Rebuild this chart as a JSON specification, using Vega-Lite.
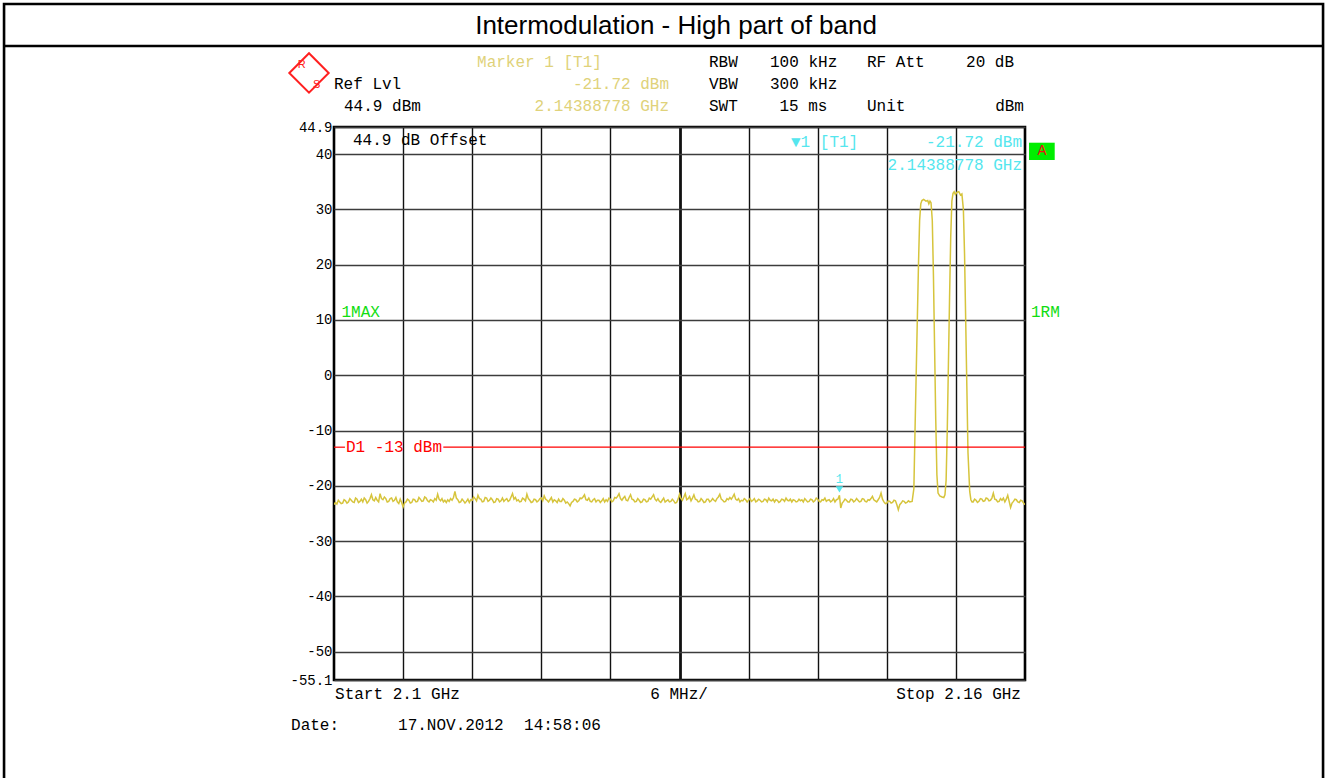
{
  "$schema": "https://vega.github.io/schema/vega-lite/v6.json",
  "width": 691,
  "height": 553,
  "autosize": {"type": "none"},
  "padding": {"left": 334, "top": 127, "right": 302, "bottom": 98},
  "background": "white",
  "config": {
    "view": {"stroke": "black", "strokeWidth": 2.6},
    "axis": {"title": null},
    "text": {"font": "Liberation Mono", "fontSize": 16, "baseline": "alphabetic"}
  },
  "data": {"values": [{}]},
  "layer": [
    {
      "data": {"values": [
        {"f":2100.000,"v":-23.4},{"f":2100.125,"v":-23.0},{"f":2100.250,"v":-23.3},{"f":2100.375,"v":-22.6},{"f":2100.500,"v":-22.9},{"f":2100.625,"v":-23.2},{"f":2100.750,"v":-23.1},{"f":2100.875,"v":-22.5},
        {"f":2101.000,"v":-22.7},{"f":2101.125,"v":-23.1},{"f":2101.250,"v":-22.9},{"f":2101.375,"v":-22.3},{"f":2101.500,"v":-22.6},{"f":2101.625,"v":-22.9},{"f":2101.750,"v":-23.0},{"f":2101.875,"v":-22.2},
        {"f":2102.000,"v":-22.4},{"f":2102.125,"v":-23.0},{"f":2102.250,"v":-22.8},{"f":2102.375,"v":-22.4},{"f":2102.500,"v":-22.9},{"f":2102.625,"v":-22.2},{"f":2102.750,"v":-22.5},{"f":2102.875,"v":-23.1},
        {"f":2103.000,"v":-22.8},{"f":2103.125,"v":-22.3},{"f":2103.250,"v":-21.6},{"f":2103.375,"v":-22.5},{"f":2103.500,"v":-22.7},{"f":2103.625,"v":-22.1},{"f":2103.750,"v":-22.6},{"f":2103.875,"v":-22.9},
        {"f":2104.000,"v":-21.4},{"f":2104.125,"v":-22.3},{"f":2104.250,"v":-22.5},{"f":2104.375,"v":-22.0},{"f":2104.500,"v":-22.3},{"f":2104.625,"v":-22.9},{"f":2104.750,"v":-22.8},{"f":2104.875,"v":-22.3},
        {"f":2105.000,"v":-22.2},{"f":2105.125,"v":-22.8},{"f":2105.250,"v":-22.6},{"f":2105.375,"v":-22.1},{"f":2105.500,"v":-22.9},{"f":2105.625,"v":-23.2},{"f":2105.750,"v":-22.4},{"f":2105.875,"v":-23.0},
        {"f":2106.000,"v":-23.8},{"f":2106.125,"v":-23.1},{"f":2106.250,"v":-22.9},{"f":2106.375,"v":-22.4},{"f":2106.500,"v":-22.6},{"f":2106.625,"v":-23.1},{"f":2106.750,"v":-23.0},{"f":2106.875,"v":-22.4},
        {"f":2107.000,"v":-22.5},{"f":2107.125,"v":-22.9},{"f":2107.250,"v":-22.8},{"f":2107.375,"v":-22.1},{"f":2107.500,"v":-22.4},{"f":2107.625,"v":-22.8},{"f":2107.750,"v":-22.7},{"f":2107.875,"v":-22.0},
        {"f":2108.000,"v":-22.2},{"f":2108.125,"v":-22.7},{"f":2108.250,"v":-22.9},{"f":2108.375,"v":-22.5},{"f":2108.500,"v":-22.6},{"f":2108.625,"v":-22.9},{"f":2108.750,"v":-22.3},{"f":2108.875,"v":-22.6},
        {"f":2109.000,"v":-21.5},{"f":2109.125,"v":-22.4},{"f":2109.250,"v":-22.7},{"f":2109.375,"v":-22.3},{"f":2109.500,"v":-22.9},{"f":2109.625,"v":-22.6},{"f":2109.750,"v":-23.0},{"f":2109.875,"v":-22.5},
        {"f":2110.000,"v":-22.8},{"f":2110.125,"v":-22.3},{"f":2110.250,"v":-22.6},{"f":2110.375,"v":-22.1},{"f":2110.500,"v":-21.0},{"f":2110.625,"v":-22.2},{"f":2110.750,"v":-22.5},{"f":2110.875,"v":-23.0},
        {"f":2111.000,"v":-22.9},{"f":2111.125,"v":-22.4},{"f":2111.250,"v":-22.7},{"f":2111.375,"v":-23.1},{"f":2111.500,"v":-22.8},{"f":2111.625,"v":-22.4},{"f":2111.750,"v":-23.0},{"f":2111.875,"v":-22.5},
        {"f":2112.000,"v":-22.6},{"f":2112.125,"v":-22.0},{"f":2112.250,"v":-22.3},{"f":2112.375,"v":-22.7},{"f":2112.500,"v":-21.7},{"f":2112.625,"v":-22.3},{"f":2112.750,"v":-22.4},{"f":2112.875,"v":-22.9},
        {"f":2113.000,"v":-22.8},{"f":2113.125,"v":-22.1},{"f":2113.250,"v":-22.2},{"f":2113.375,"v":-22.8},{"f":2113.500,"v":-22.6},{"f":2113.625,"v":-22.2},{"f":2113.750,"v":-22.5},{"f":2113.875,"v":-23.0},
        {"f":2114.000,"v":-22.9},{"f":2114.125,"v":-22.3},{"f":2114.250,"v":-22.4},{"f":2114.375,"v":-22.9},{"f":2114.500,"v":-22.7},{"f":2114.625,"v":-22.2},{"f":2114.750,"v":-22.8},{"f":2114.875,"v":-22.5},
        {"f":2115.000,"v":-22.3},{"f":2115.125,"v":-22.8},{"f":2115.250,"v":-22.6},{"f":2115.375,"v":-22.0},{"f":2115.500,"v":-21.4},{"f":2115.625,"v":-22.4},{"f":2115.750,"v":-22.1},{"f":2115.875,"v":-22.7},
        {"f":2116.000,"v":-22.5},{"f":2116.125,"v":-22.9},{"f":2116.250,"v":-22.8},{"f":2116.375,"v":-22.2},{"f":2116.500,"v":-22.4},{"f":2116.625,"v":-22.7},{"f":2116.750,"v":-21.5},{"f":2116.875,"v":-22.3},
        {"f":2117.000,"v":-22.6},{"f":2117.125,"v":-23.0},{"f":2117.250,"v":-22.9},{"f":2117.375,"v":-22.4},{"f":2117.500,"v":-22.5},{"f":2117.625,"v":-22.9},{"f":2117.750,"v":-22.7},{"f":2117.875,"v":-22.3},
        {"f":2118.000,"v":-22.2},{"f":2118.125,"v":-22.7},{"f":2118.250,"v":-21.8},{"f":2118.375,"v":-22.4},{"f":2118.500,"v":-22.6},{"f":2118.625,"v":-22.9},{"f":2118.750,"v":-22.5},{"f":2118.875,"v":-22.1},
        {"f":2119.000,"v":-22.9},{"f":2119.125,"v":-22.5},{"f":2119.250,"v":-22.7},{"f":2119.375,"v":-23.0},{"f":2119.500,"v":-22.4},{"f":2119.625,"v":-22.8},{"f":2119.750,"v":-22.8},{"f":2119.875,"v":-22.3},
        {"f":2120.000,"v":-22.6},{"f":2120.125,"v":-23.1},{"f":2120.250,"v":-22.9},{"f":2120.375,"v":-23.2},{"f":2120.500,"v":-23.6},{"f":2120.625,"v":-23.0},{"f":2120.750,"v":-22.8},{"f":2120.875,"v":-22.4},
        {"f":2121.000,"v":-22.5},{"f":2121.125,"v":-22.9},{"f":2121.250,"v":-22.7},{"f":2121.375,"v":-22.2},{"f":2121.500,"v":-22.3},{"f":2121.625,"v":-22.0},{"f":2121.750,"v":-21.6},{"f":2121.875,"v":-22.5},
        {"f":2122.000,"v":-22.6},{"f":2122.125,"v":-22.2},{"f":2122.250,"v":-22.8},{"f":2122.375,"v":-22.9},{"f":2122.500,"v":-22.5},{"f":2122.625,"v":-22.3},{"f":2122.750,"v":-22.9},{"f":2122.875,"v":-22.6},
        {"f":2123.000,"v":-22.6},{"f":2123.125,"v":-23.0},{"f":2123.250,"v":-22.7},{"f":2123.375,"v":-22.3},{"f":2123.500,"v":-22.9},{"f":2123.625,"v":-22.5},{"f":2123.750,"v":-22.8},{"f":2123.875,"v":-22.2},
        {"f":2124.000,"v":-22.4},{"f":2124.125,"v":-22.9},{"f":2124.250,"v":-22.7},{"f":2124.375,"v":-22.1},{"f":2124.500,"v":-22.2},{"f":2124.625,"v":-21.9},{"f":2124.750,"v":-21.4},{"f":2124.875,"v":-22.3},
        {"f":2125.000,"v":-22.6},{"f":2125.125,"v":-22.2},{"f":2125.250,"v":-21.9},{"f":2125.375,"v":-22.6},{"f":2125.500,"v":-22.7},{"f":2125.625,"v":-22.1},{"f":2125.750,"v":-21.6},{"f":2125.875,"v":-22.4},
        {"f":2126.000,"v":-22.5},{"f":2126.125,"v":-22.9},{"f":2126.250,"v":-22.8},{"f":2126.375,"v":-22.3},{"f":2126.500,"v":-22.6},{"f":2126.625,"v":-23.0},{"f":2126.750,"v":-22.9},{"f":2126.875,"v":-22.4},
        {"f":2127.000,"v":-22.5},{"f":2127.125,"v":-22.9},{"f":2127.250,"v":-22.8},{"f":2127.375,"v":-22.2},{"f":2127.500,"v":-22.4},{"f":2127.625,"v":-22.0},{"f":2127.750,"v":-21.6},{"f":2127.875,"v":-22.4},
        {"f":2128.000,"v":-22.7},{"f":2128.125,"v":-22.3},{"f":2128.250,"v":-22.8},{"f":2128.375,"v":-23.0},{"f":2128.500,"v":-22.6},{"f":2128.625,"v":-22.2},{"f":2128.750,"v":-22.9},{"f":2128.875,"v":-22.7},
        {"f":2129.000,"v":-22.5},{"f":2129.125,"v":-22.9},{"f":2129.250,"v":-22.8},{"f":2129.375,"v":-22.4},{"f":2129.500,"v":-22.7},{"f":2129.625,"v":-23.1},{"f":2129.750,"v":-23.0},{"f":2129.875,"v":-22.4},
        {"f":2130.000,"v":-21.5},{"f":2130.125,"v":-22.3},{"f":2130.250,"v":-22.6},{"f":2130.375,"v":-22.0},{"f":2130.500,"v":-21.4},{"f":2130.625,"v":-22.5},{"f":2130.750,"v":-22.3},{"f":2130.875,"v":-21.9},
        {"f":2131.000,"v":-22.7},{"f":2131.125,"v":-22.2},{"f":2131.250,"v":-21.6},{"f":2131.375,"v":-22.4},{"f":2131.500,"v":-22.5},{"f":2131.625,"v":-22.9},{"f":2131.750,"v":-22.8},{"f":2131.875,"v":-22.3},
        {"f":2132.000,"v":-22.6},{"f":2132.125,"v":-23.0},{"f":2132.250,"v":-22.9},{"f":2132.375,"v":-22.4},{"f":2132.500,"v":-22.4},{"f":2132.625,"v":-22.9},{"f":2132.750,"v":-22.7},{"f":2132.875,"v":-22.3},
        {"f":2133.000,"v":-22.6},{"f":2133.125,"v":-22.8},{"f":2133.250,"v":-22.3},{"f":2133.375,"v":-22.0},{"f":2133.500,"v":-21.5},{"f":2133.625,"v":-22.4},{"f":2133.750,"v":-22.6},{"f":2133.875,"v":-22.9},
        {"f":2134.000,"v":-22.8},{"f":2134.125,"v":-22.3},{"f":2134.250,"v":-22.5},{"f":2134.375,"v":-22.1},{"f":2134.500,"v":-22.4},{"f":2134.625,"v":-22.0},{"f":2134.750,"v":-21.5},{"f":2134.875,"v":-22.4},
        {"f":2135.000,"v":-22.6},{"f":2135.125,"v":-22.3},{"f":2135.250,"v":-22.9},{"f":2135.375,"v":-22.6},{"f":2135.500,"v":-22.7},{"f":2135.625,"v":-22.3},{"f":2135.750,"v":-22.5},{"f":2135.875,"v":-22.9},
        {"f":2136.000,"v":-22.6},{"f":2136.125,"v":-22.3},{"f":2136.250,"v":-22.8},{"f":2136.375,"v":-22.6},{"f":2136.500,"v":-22.3},{"f":2136.625,"v":-22.9},{"f":2136.750,"v":-22.7},{"f":2136.875,"v":-22.4},
        {"f":2137.000,"v":-22.6},{"f":2137.125,"v":-22.9},{"f":2137.250,"v":-22.8},{"f":2137.375,"v":-22.4},{"f":2137.500,"v":-22.5},{"f":2137.625,"v":-22.9},{"f":2137.750,"v":-22.2},{"f":2137.875,"v":-22.6},
        {"f":2138.000,"v":-22.7},{"f":2138.125,"v":-22.4},{"f":2138.250,"v":-22.9},{"f":2138.375,"v":-22.5},{"f":2138.500,"v":-22.6},{"f":2138.625,"v":-23.0},{"f":2138.750,"v":-22.8},{"f":2138.875,"v":-22.4},
        {"f":2139.000,"v":-22.5},{"f":2139.125,"v":-22.8},{"f":2139.250,"v":-22.2},{"f":2139.375,"v":-22.6},{"f":2139.500,"v":-22.7},{"f":2139.625,"v":-22.4},{"f":2139.750,"v":-22.9},{"f":2139.875,"v":-22.5},
        {"f":2140.000,"v":-22.6},{"f":2140.125,"v":-22.9},{"f":2140.250,"v":-22.8},{"f":2140.375,"v":-22.4},{"f":2140.500,"v":-22.7},{"f":2140.625,"v":-22.5},{"f":2140.750,"v":-22.9},{"f":2140.875,"v":-22.3},
        {"f":2141.000,"v":-22.6},{"f":2141.125,"v":-22.9},{"f":2141.250,"v":-22.8},{"f":2141.375,"v":-22.4},{"f":2141.500,"v":-22.5},{"f":2141.625,"v":-22.9},{"f":2141.750,"v":-22.7},{"f":2141.875,"v":-22.2},
        {"f":2142.000,"v":-22.4},{"f":2142.125,"v":-22.8},{"f":2142.250,"v":-22.9},{"f":2142.375,"v":-22.5},{"f":2142.500,"v":-22.6},{"f":2142.625,"v":-22.2},{"f":2142.750,"v":-22.8},{"f":2142.875,"v":-22.6},
        {"f":2143.000,"v":-22.5},{"f":2143.125,"v":-22.9},{"f":2143.250,"v":-22.7},{"f":2143.375,"v":-22.3},{"f":2143.500,"v":-22.9},{"f":2143.625,"v":-22.5},{"f":2143.750,"v":-22.4},{"f":2143.888,"v":-21.72},
        {"f":2144.000,"v":-24.0},{"f":2144.125,"v":-23.1},{"f":2144.250,"v":-22.8},{"f":2144.375,"v":-22.4},{"f":2144.500,"v":-22.6},{"f":2144.625,"v":-22.9},{"f":2144.750,"v":-22.9},{"f":2144.875,"v":-22.4},
        {"f":2145.000,"v":-22.5},{"f":2145.125,"v":-22.9},{"f":2145.250,"v":-22.7},{"f":2145.375,"v":-22.3},{"f":2145.500,"v":-22.6},{"f":2145.625,"v":-22.9},{"f":2145.750,"v":-22.8},{"f":2145.875,"v":-22.3},
        {"f":2146.000,"v":-22.4},{"f":2146.125,"v":-22.8},{"f":2146.250,"v":-22.9},{"f":2146.375,"v":-22.5},{"f":2146.500,"v":-22.6},{"f":2146.625,"v":-22.3},{"f":2146.750,"v":-21.9},{"f":2146.875,"v":-22.5},
        {"f":2147.000,"v":-22.7},{"f":2147.125,"v":-22.9},{"f":2147.250,"v":-22.5},{"f":2147.375,"v":-22.1},{"f":2147.500,"v":-21.3},{"f":2147.625,"v":-22.4},{"f":2147.750,"v":-22.9},{"f":2147.875,"v":-23.2},
        {"f":2148.000,"v":-23.1},{"f":2148.125,"v":-22.7},{"f":2148.250,"v":-22.8},{"f":2148.375,"v":-23.1},{"f":2148.500,"v":-23.0},{"f":2148.625,"v":-22.6},{"f":2148.750,"v":-22.7},{"f":2148.875,"v":-23.4},
        {"f":2149.000,"v":-24.3},{"f":2149.125,"v":-23.4},{"f":2149.250,"v":-23.1},{"f":2149.375,"v":-22.7},{"f":2149.500,"v":-22.8},{"f":2149.625,"v":-23.1},{"f":2149.750,"v":-23.0},{"f":2149.875,"v":-22.7},
        {"f":2150.000,"v":-22.9},
        {"f":2150.20,"v":-22.8},{"f":2150.35,"v":-20.5},{"f":2150.45,"v":-10},{"f":2150.55,"v":0},{"f":2150.65,"v":10},{"f":2150.75,"v":20},{"f":2150.85,"v":28},{"f":2150.95,"v":31.0},{"f":2151.05,"v":31.6},{"f":2151.20,"v":31.8},
        {"f":2151.40,"v":31.5},{"f":2151.55,"v":31.6},{"f":2151.65,"v":31.0},{"f":2151.75,"v":31.5},{"f":2151.84,"v":31.2},{"f":2151.95,"v":28},{"f":2152.05,"v":18},{"f":2152.15,"v":5},{"f":2152.25,"v":-8},{"f":2152.35,"v":-18},
        {"f":2152.45,"v":-21.3},{"f":2152.60,"v":-21.8},{"f":2152.80,"v":-22.0},{"f":2152.95,"v":-22.1},{"f":2153.05,"v":-21.6},{"f":2153.15,"v":-19},{"f":2153.25,"v":-10},{"f":2153.35,"v":2},{"f":2153.45,"v":14},{"f":2153.55,"v":25},
        {"f":2153.65,"v":31.5},{"f":2153.75,"v":32.9},{"f":2153.85,"v":33.2},{"f":2153.95,"v":32.7},{"f":2154.10,"v":33.1},{"f":2154.25,"v":33.2},{"f":2154.40,"v":32.6},{"f":2154.52,"v":32.8},{"f":2154.65,"v":30},{"f":2154.75,"v":22},
        {"f":2154.85,"v":10},{"f":2154.95,"v":-2},{"f":2155.05,"v":-14},{"f":2155.20,"v":-21},{"f":2155.30,"v":-22.5},
        {"f":2155.400,"v":-22.9},{"f":2155.500,"v":-22.9},{"f":2155.625,"v":-22.4},{"f":2155.750,"v":-22.6},{"f":2155.875,"v":-23.0},{"f":2156.000,"v":-22.8},{"f":2156.125,"v":-22.3},{"f":2156.250,"v":-22.4},
        {"f":2156.375,"v":-22.8},{"f":2156.500,"v":-22.7},{"f":2156.625,"v":-22.2},{"f":2156.750,"v":-22.3},{"f":2156.875,"v":-22.7},{"f":2157.000,"v":-22.6},{"f":2157.125,"v":-22.2},{"f":2157.250,"v":-21.3},
        {"f":2157.375,"v":-22.4},{"f":2157.500,"v":-22.5},{"f":2157.625,"v":-22.9},{"f":2157.750,"v":-22.8},{"f":2157.875,"v":-22.3},{"f":2158.000,"v":-22.6},{"f":2158.125,"v":-22.2},{"f":2158.250,"v":-22.9},
        {"f":2158.375,"v":-22.4},{"f":2158.500,"v":-21.7},{"f":2158.625,"v":-22.8},{"f":2158.750,"v":-23.9},{"f":2158.875,"v":-23.1},{"f":2159.000,"v":-22.8},{"f":2159.125,"v":-22.4},{"f":2159.250,"v":-22.5},
        {"f":2159.375,"v":-22.9},{"f":2159.500,"v":-23.0},{"f":2159.625,"v":-22.6},{"f":2159.750,"v":-22.7},{"f":2159.875,"v":-23.1},{"f":2160.000,"v":-23.4}
      ]},
      "mark": {"type": "line", "color": "#d6c43c", "strokeWidth": 1.5, "clip": true},
      "encoding": {
        "x": {"field": "f", "type": "quantitative", "scale": {"domain": [2100, 2160], "nice": false, "zero": false},
          "axis": {"values": [2106, 2112, 2118, 2124, 2130, 2136, 2142, 2148, 2154], "grid": true, "labels": false, "ticks": false, "domain": false, "title": null,
            "gridColor": "#111111", "gridOpacity": 1,
            "gridWidth": {"condition": {"test": "datum.value == 2130", "value": 2.8}, "value": 1.4}}},
        "y": {"field": "v", "type": "quantitative", "scale": {"domain": [-55.1, 44.9], "nice": false, "zero": false},
          "axis": {"values": [-55.1, -50, -40, -30, -20, -10, 0, 10, 20, 30, 40, 44.9], "grid": true, "ticks": false, "domain": false, "title": null,
            "labelExpr": "'' + datum.value", "labelFont": "Liberation Mono", "labelFontSize": 14, "labelColor": "#000000", "labelPadding": 2, "labelFlush": false,
            "gridColor": "#3c3c3c", "gridOpacity": 1, "gridWidth": 1.5}}
      }
    },
    {
      "mark": {"type": "rule", "color": "#ff0000", "strokeWidth": 1.2},
      "encoding": {"x": {"datum": 2100}, "x2": {"datum": 2100.95}, "y": {"datum": -13}}
    },
    {
      "mark": {"type": "rule", "color": "#ff0000", "strokeWidth": 1.2},
      "encoding": {"x": {"datum": 2109.49}, "x2": {"datum": 2160}, "y": {"datum": -13}}
    },
    {
      "mark": {"type": "text", "align": "left", "color": "#ff0000"},
      "encoding": {"x": {"datum": 2101.04}, "y": {"datum": -13.78}, "text": {"value": "D1 -13 dBm"}}
    },
    {
      "mark": {"type": "point", "shape": "triangle-down", "filled": true, "color": "#55e6ee", "size": 55, "yOffset": -6, "opacity": 1},
      "encoding": {"x": {"datum": 2143.888}, "y": {"datum": -21.72}}
    },
    {
      "mark": {"type": "text", "align": "center", "color": "#55e6ee", "fontSize": 12, "dy": -12},
      "encoding": {"x": {"datum": 2143.888}, "y": {"datum": -21.72}, "text": {"value": "1"}}
    },
    {
      "mark": {"type": "rect", "fill": null, "stroke": "#000000", "strokeWidth": 2.6, "clip": false},
      "encoding": {"x": {"datum": 2071.35}, "x2": {"datum": 2185.88}, "y": {"datum": 67.14}, "y2": {"datum": -75}}
    },
    {
      "mark": {"type": "rule", "color": "#000000", "strokeWidth": 2.6},
      "encoding": {"x": {"datum": 2071.35}, "x2": {"datum": 2185.88}, "y": {"datum": 59.55}}
    },
    {
      "mark": {"type": "text", "align": "center", "font": "Liberation Sans", "fontSize": 26, "color": "#000000"},
      "encoding": {"x": {"datum": 2129.7}, "y": {"datum": 61.72}, "text": {"value": "Intermodulation - High part of band"}}
    },
    {
      "mark": {"type": "point", "shape": "diamond", "size": 1550, "filled": false, "color": "#ff2020", "strokeWidth": 2, "opacity": 1},
      "encoding": {"x": {"datum": 2097.83}, "y": {"datum": 54.67}}
    },
    {
      "mark": {"type": "text", "align": "center", "color": "#ff2020", "fontSize": 11, "font": "Liberation Sans"},
      "encoding": {"x": {"datum": 2097.2}, "y": {"datum": 55.6}, "text": {"value": "R"}}
    },
    {
      "mark": {"type": "text", "align": "center", "color": "#ff2020", "fontSize": 11, "font": "Liberation Sans"},
      "encoding": {"x": {"datum": 2098.5}, "y": {"datum": 52.0}, "text": {"value": "S"}}
    },
    {
      "mark": {"type": "text", "align": "left", "color": "#000000"},
      "encoding": {"x": {"datum": 2100.0}, "y": {"datum": 51.77}, "text": {"value": "Ref Lvl"}}
    },
    {
      "mark": {"type": "text", "align": "left", "color": "#000000"},
      "encoding": {"x": {"datum": 2100.87}, "y": {"datum": 47.88}, "text": {"value": "44.9 dBm"}}
    },
    {
      "mark": {"type": "text", "align": "left", "color": "#e0d27a"},
      "encoding": {"x": {"datum": 2112.42}, "y": {"datum": 55.84}, "text": {"value": "Marker 1 [T1]"}}
    },
    {
      "mark": {"type": "text", "align": "right", "color": "#e0d27a"},
      "encoding": {"x": {"datum": 2129.09}, "y": {"datum": 51.77}, "text": {"value": "-21.72 dBm"}}
    },
    {
      "mark": {"type": "text", "align": "right", "color": "#e0d27a"},
      "encoding": {"x": {"datum": 2129.09}, "y": {"datum": 47.88}, "text": {"value": "2.14388778 GHz"}}
    },
    {
      "mark": {"type": "text", "align": "left", "color": "#000000"},
      "encoding": {"x": {"datum": 2132.56}, "y": {"datum": 55.84}, "text": {"value": "RBW"}}
    },
    {
      "mark": {"type": "text", "align": "left", "color": "#000000"},
      "encoding": {"x": {"datum": 2137.86}, "y": {"datum": 55.84}, "text": {"value": "100 kHz"}}
    },
    {
      "mark": {"type": "text", "align": "left", "color": "#000000"},
      "encoding": {"x": {"datum": 2146.28}, "y": {"datum": 55.84}, "text": {"value": "RF Att"}}
    },
    {
      "mark": {"type": "text", "align": "right", "color": "#000000"},
      "encoding": {"x": {"datum": 2159.05}, "y": {"datum": 55.84}, "text": {"value": "20 dB"}}
    },
    {
      "mark": {"type": "text", "align": "left", "color": "#000000"},
      "encoding": {"x": {"datum": 2132.56}, "y": {"datum": 51.77}, "text": {"value": "VBW"}}
    },
    {
      "mark": {"type": "text", "align": "left", "color": "#000000"},
      "encoding": {"x": {"datum": 2137.86}, "y": {"datum": 51.77}, "text": {"value": "300 kHz"}}
    },
    {
      "mark": {"type": "text", "align": "left", "color": "#000000"},
      "encoding": {"x": {"datum": 2132.56}, "y": {"datum": 47.88}, "text": {"value": "SWT"}}
    },
    {
      "mark": {"type": "text", "align": "left", "color": "#000000"},
      "encoding": {"x": {"datum": 2138.68}, "y": {"datum": 47.88}, "text": {"value": "15 ms"}}
    },
    {
      "mark": {"type": "text", "align": "left", "color": "#000000"},
      "encoding": {"x": {"datum": 2146.28}, "y": {"datum": 47.88}, "text": {"value": "Unit"}}
    },
    {
      "mark": {"type": "text", "align": "right", "color": "#000000"},
      "encoding": {"x": {"datum": 2159.91}, "y": {"datum": 47.88}, "text": {"value": "dBm"}}
    },
    {
      "mark": {"type": "text", "align": "left", "color": "#000000"},
      "encoding": {"x": {"datum": 2101.65}, "y": {"datum": 41.65}, "text": {"value": "44.9 dB Offset"}}
    },
    {
      "mark": {"type": "text", "align": "left", "color": "#55e6ee"},
      "encoding": {"x": {"datum": 2139.68}, "y": {"datum": 41.28}, "text": {"value": "▼1 [T1]"}}
    },
    {
      "mark": {"type": "text", "align": "right", "color": "#55e6ee"},
      "encoding": {"x": {"datum": 2159.74}, "y": {"datum": 41.28}, "text": {"value": "-21.72 dBm"}}
    },
    {
      "mark": {"type": "text", "align": "right", "color": "#55e6ee"},
      "encoding": {"x": {"datum": 2159.74}, "y": {"datum": 37.12}, "text": {"value": "2.14388778 GHz"}}
    },
    {
      "mark": {"type": "rect", "fill": "#00ee00", "clip": false},
      "encoding": {"x": {"datum": 2160.35}, "x2": {"datum": 2162.58}, "y": {"datum": 42.06}, "y2": {"datum": 38.93}}
    },
    {
      "mark": {"type": "text", "align": "center", "color": "#ee1111", "fontSize": 15},
      "encoding": {"x": {"datum": 2161.47}, "y": {"datum": 39.75}, "text": {"value": "A"}}
    },
    {
      "mark": {"type": "text", "align": "left", "color": "#11dd11"},
      "encoding": {"x": {"datum": 2100.65}, "y": {"datum": 10.54}, "text": {"value": "1MAX"}}
    },
    {
      "mark": {"type": "text", "align": "left", "color": "#11dd11"},
      "encoding": {"x": {"datum": 2160.52}, "y": {"datum": 10.54}, "text": {"value": "1RM"}}
    },
    {
      "mark": {"type": "text", "align": "left", "color": "#000000"},
      "encoding": {"x": {"datum": 2100.09}, "y": {"datum": -58.54}, "text": {"value": "Start 2.1 GHz"}}
    },
    {
      "mark": {"type": "text", "align": "center", "color": "#000000"},
      "encoding": {"x": {"datum": 2129.96}, "y": {"datum": -58.54}, "text": {"value": "6 MHz/"}}
    },
    {
      "mark": {"type": "text", "align": "right", "color": "#000000"},
      "encoding": {"x": {"datum": 2159.65}, "y": {"datum": -58.54}, "text": {"value": "Stop 2.16 GHz"}}
    },
    {
      "mark": {"type": "text", "align": "left", "color": "#000000"},
      "encoding": {"x": {"datum": 2096.27}, "y": {"datum": -64.14}, "text": {"value": "Date:"}}
    },
    {
      "mark": {"type": "text", "align": "left", "color": "#000000"},
      "encoding": {"x": {"datum": 2105.56}, "y": {"datum": -64.14}, "text": {"value": "17.NOV.2012"}}
    },
    {
      "mark": {"type": "text", "align": "left", "color": "#000000"},
      "encoding": {"x": {"datum": 2116.5}, "y": {"datum": -64.14}, "text": {"value": "14:58:06"}}
    }
  ]
}
